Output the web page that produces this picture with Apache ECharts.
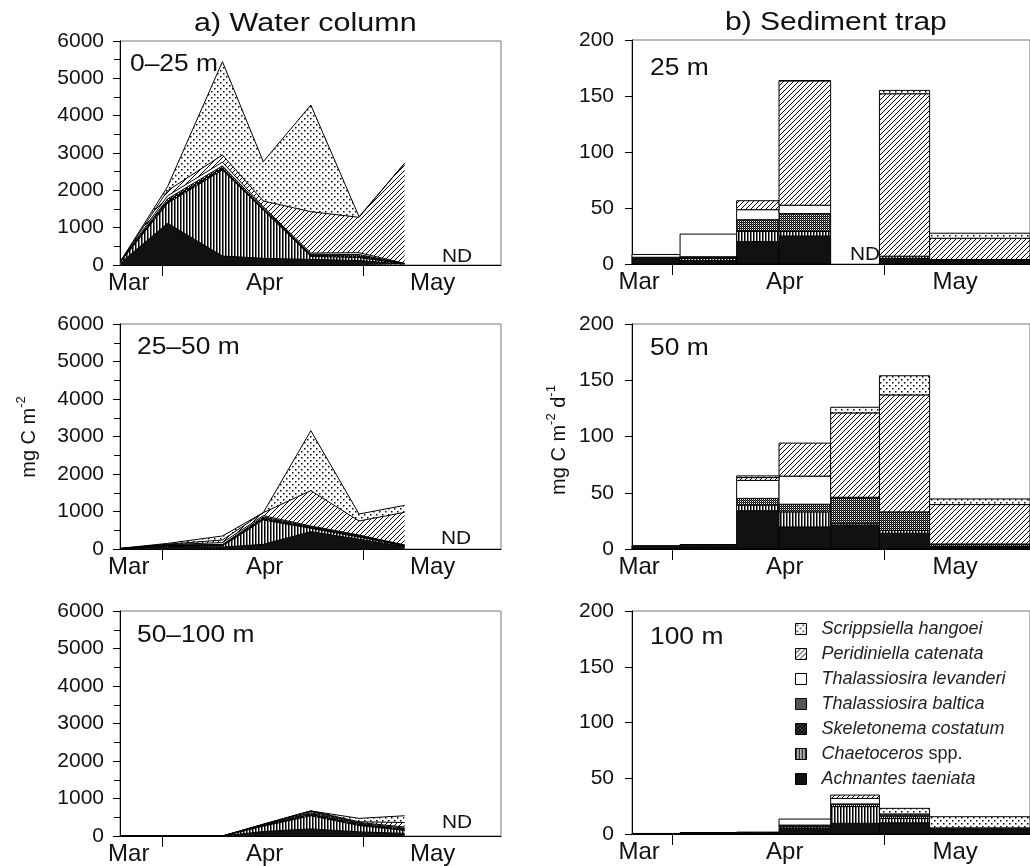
<!DOCTYPE html>
<html><head><meta charset="utf-8">
<script src="https://cdn.jsdelivr.net/npm/echarts@6/dist/echarts.min.js"></script>
<style>html,body{margin:0;padding:0;background:#fff}#c{width:1030px;height:866px}</style>
</head><body><div id="c"></div>
<script>
// ---------------- DATA ----------------
// stack order bottom -> top
const species = ['Achnantes taeniata','Chaetoceros spp.','Skeletonema costatum','Thalassiosira baltica','Thalassiosira levanderi','Peridiniella catenata','Scrippsiella hangoei'];
const legendOrder = ['Scrippsiella hangoei','Peridiniella catenata','Thalassiosira levanderi','Thalassiosira baltica','Skeletonema costatum','Chaetoceros spp.','Achnantes taeniata'];

// sampling dates (day of year)
const sampleDays = [84.8, 91.8, 100.0, 106.1, 113.2, 120.4, 127.2];
// trap deployment interval boundaries (day of year)
const trapBounds = [85.3, 92.1, 100.1, 106.1, 113.4, 120.3, 127.4, 141.6];

// month ticks (Apr 1, May 1) and month label positions
const monthTicks = [91, 121];
const monthNames = ['Mar', 'Apr', 'May'];
const monthLabelDaysWC = [86.0, 106.3, 131.4];
const monthLabelDaysST = [86.3, 106.9, 131.0];

// Water column, mg C m-2 ; rows = species (bottom->top), cols = sampleDays
const wc_0_25 = [
  [60, 1116, 241, 179, 150, 120, 20],
  [30, 536, 2304, 1294, 80, 80, 10],
  [5, 60, 50, 30, 30, 40, 5],
  [5, 60, 60, 30, 30, 40, 5],
  [5, 80, 100, 30, 30, 50, 5],
  [5, 138, 192, 152, 1109, 947, 2679],
  [0, 108, 2500, 1053, 2857, 18, 0]
];
const wc_25_50 = [
  [5, 70, 50, 124, 462, 258, 62],
  [3, 20, 30, 650, 90, 60, 20],
  [2, 10, 20, 40, 20, 20, 10],
  [2, 10, 20, 40, 20, 20, 10],
  [2, 10, 50, 35, 21, 15, 5],
  [2, 10, 70, 80, 943, 374, 871],
  [2, 20, 107, 0, 1600, 186, 186]
];
const wc_50_100 = [
  [0, 0, 0, 120, 190, 110, 70],
  [0, 0, 0, 140, 350, 170, 80],
  [0, 0, 0, 15, 40, 30, 30],
  [0, 0, 0, 15, 40, 30, 30],
  [0, 0, 0, 15, 30, 20, 30],
  [0, 0, 0, 10, 20, 20, 120],
  [0, 0, 0, 0, 0, 90, 180]
];

// Sediment trap, mg C m-2 d-1 ; rows = species, cols = trap intervals (null = ND)
const st_25 = [
  [6, 3, 20, 25, null, 5, 3],
  [0, 2, 9, 4, null, 2, 1],
  [0, 1.5, 0.5, 0, null, 0, 0],
  [0, 0, 10, 16, null, 0, 0],
  [2.5, 20.2, 9, 7.5, null, 0, 0],
  [0, 0, 8, 111, null, 145, 19],
  [0, 0, 0, 0.3, null, 3, 4.5]
];
const st_50 = [
  [3, 2, 34, 19.6, 21, 14, 2],
  [0, 1, 5, 13.4, 1.5, 2.5, 0.5],
  [0, 0, 0, 0, 0, 0, 0],
  [0, 1, 6, 6.8, 23, 16.5, 2],
  [0, 0, 16, 25, 0.5, 0, 0],
  [0, 0, 2.5, 29.3, 75, 104, 35],
  [0, 0, 1.5, 0, 5, 17, 5]
];
const st_100 = [
  [0.5, 1, 1.2, 5, 9.6, 10, 4.5],
  [0, 0.3, 0.5, 1.5, 15, 4, 1],
  [0, 0, 0, 0, 0, 0, 0],
  [0, 0, 0, 1.5, 2.4, 2, 0],
  [0, 0, 0, 5.4, 4.9, 1, 0],
  [0, 0, 0, 0, 3, 1, 0],
  [0, 0, 0, 0, 0, 5, 10]
];

// ---------------- PATTERNS ----------------
function pat(w, h, draw) {
  const c = document.createElement('canvas'); c.width = w; c.height = h;
  const g = c.getContext('2d'); g.fillStyle = '#fff'; g.fillRect(0, 0, w, h); draw(g);
  return { image: c, repeat: 'repeat' };
}
const fills = [
  '#111',
  pat(3, 3, g => { g.fillStyle = '#000'; g.fillRect(0, 0, 1, 3); g.fillStyle = '#777'; g.fillRect(1, 0, 1, 3); }),
  pat(4, 4, g => { g.fillStyle = '#000'; g.fillRect(0, 0, 4, 4); g.fillStyle = '#fff'; g.fillRect(0, 0, 1, 1); g.fillRect(2, 2, 1, 1); }),
  pat(2, 2, g => { g.fillStyle = '#000'; g.fillRect(0, 0, 1, 1); g.fillRect(1, 1, 1, 1); g.fillStyle = '#555'; g.fillRect(1, 0, 1, 1); }),
  '#fff',
  pat(5, 5, g => { g.strokeStyle = '#000'; g.lineWidth = 1; g.beginPath(); g.moveTo(0, 5); g.lineTo(5, 0); g.moveTo(-1, 1); g.lineTo(1, -1); g.moveTo(4, 6); g.lineTo(6, 4); g.stroke(); }),
  pat(6, 6, g => { g.fillStyle = '#000'; g.fillRect(1, 1, 1.5, 1.5); g.fillRect(4, 4, 1.5, 1.5); })
];

// ---------------- OPTION ----------------
const FF = '"Liberation Sans", Arial, Helvetica, sans-serif';
const grids = [
  { left: 120, top: 41, width: 381, height: 224 },
  { left: 120, top: 324, width: 381, height: 225 },
  { left: 120, top: 611, width: 381, height: 225 },
  { left: 632, top: 40, width: 409, height: 224 },
  { left: 632, top: 324, width: 409, height: 225 },
  { left: 632, top: 611, width: 409, height: 223 }
].map(g => Object.assign({ show: true, borderColor: '#777', borderWidth: 1, backgroundColor: 'transparent' }, g));

function xAx(i, isWC) {
  const labDays = isWC ? monthLabelDaysWC : monthLabelDaysST;
  return {
    type: 'value', gridIndex: i,
    min: isWC ? 84.7 : 85.3, max: 141.6,
    axisLine: { show: true, onZero: false, lineStyle: { color: '#000', width: 1 } },
    axisTick: { show: true, customValues: monthTicks, length: 11, lineStyle: { color: '#000' } },
    axisLabel: {
      show: true, customValues: labDays, margin: 6, fontSize: 24, fontFamily: FF, color: '#111',
      formatter: v => { let b = 0, d = 1e9; labDays.forEach((x, k) => { if (Math.abs(x - v) < d) { d = Math.abs(x - v); b = k; } }); return monthNames[b]; }
    },
    splitLine: { show: false }
  };
}
function yAx(i, isWC) {
  return {
    type: 'value', gridIndex: i, min: 0, max: isWC ? 6000 : 200, interval: isWC ? 1000 : 50,
    axisLine: { show: true, lineStyle: { color: '#000', width: 1 } },
    axisTick: { show: true, length: 7, lineStyle: { color: '#000' } },
    minorTick: { show: isWC, splitNumber: 2, length: 6, lineStyle: { color: '#000' } },
    axisLabel: { margin: isWC ? 16 : 18, fontSize: 21, fontFamily: FF, color: '#111', formatter: v => String(v) },
    splitLine: { show: false }
  };
}

const series = [];
// sediment trap (custom step bars) first, so legend picks their style
[st_25, st_50, st_100].forEach((tbl, p) => {
  species.forEach((name, k) => {
    const data = [];
    for (let i = 0; i < trapBounds.length - 1; i++) {
      const v = tbl[k][i];
      if (v === null || !(v > 0)) continue;
      let base = 0; for (let j = 0; j < k; j++) base += (tbl[j][i] || 0);
      data.push([trapBounds[i], trapBounds[i + 1], base, base + v]);
    }
    series.push({
      type: 'custom', name, xAxisIndex: 3 + p, yAxisIndex: 3 + p,
      itemStyle: { color: fills[k], borderColor: '#000', borderWidth: 1 },
      encode: { x: [0, 1], y: [2, 3] },
      data,
      renderItem: (params, api) => {
        const a = api.coord([api.value(0), api.value(3)]);
        const b = api.coord([api.value(1), api.value(2)]);
        return { type: 'rect', shape: { x: a[0], y: a[1], width: b[0] - a[0], height: b[1] - a[1] },
          style: { fill: fills[k], stroke: '#000', lineWidth: 1 } };
      }
    });
  });
});
// water column: cumulative totals, drawn top layer first, each filled down to 0 with opaque pattern
[wc_0_25, wc_25_50, wc_50_100].forEach((tbl, p) => {
  for (let k = species.length - 1; k >= 0; k--) {
    const cum = sampleDays.map((d, i) => { let s = 0; for (let j = 0; j <= k; j++) s += tbl[j][i]; return [d, s]; });
    series.push({
      type: 'line', name: species[k], xAxisIndex: p, yAxisIndex: p,
      symbol: 'none', silent: true,
      lineStyle: { color: '#000', width: 1 },
      areaStyle: { color: fills[k], opacity: 1, origin: 'start' },
      data: cum
    });
  }
});

function txt(text, x, y, size, o) {
  o = o || {};
  return { type: 'text', x, y, scaleX: o.sx || 1, rotation: o.rot || 0, z: 100, silent: true,
    style: { text, x: 0, y: 0, fontSize: size, fontFamily: FF, fill: '#111', align: o.align || 'left', verticalAlign: 'middle', rich: o.rich } };
}
const unitRich = {
  a: { fontSize: 20, fontFamily: FF, fill: '#111', lineHeight: 24, verticalAlign: 'bottom' },
  s: { fontSize: 13, fontFamily: FF, fill: '#111', lineHeight: 14, verticalAlign: 'top' }
};

const option = {
  animation: false,
  backgroundColor: '#fff',
  grid: grids,
  xAxis: [xAx(0, true), xAx(1, true), xAx(2, true), xAx(3, false), xAx(4, false), xAx(5, false)],
  yAxis: [yAx(0, true), yAx(1, true), yAx(2, true), yAx(3, false), yAx(4, false), yAx(5, false)],
  legend: {
    data: legendOrder, orient: 'vertical', left: 790, top: 614, icon: 'rect',
    itemWidth: 11, itemHeight: 11, itemGap: 5, selectedMode: false,
    itemStyle: { borderColor: '#000', borderWidth: 1 },
    textStyle: { fontFamily: FF, fontSize: 18, color: '#222', lineHeight: 20, padding: [0, 0, 0, 10],
      rich: { i: { fontStyle: 'italic', fontSize: 18, fontFamily: FF, color: '#222' }, n: { fontStyle: 'normal', fontSize: 18, fontFamily: FF, color: '#222' } } },
    formatter: n => n === 'Chaetoceros spp.' ? '{i|Chaetoceros} {n|spp.}' : '{i|' + n + '}'
  },
  graphic: [
    txt('a) Water column', 194, 24, 25, { sx: 1.22 }),
    txt('b) Sediment trap', 725, 23, 25, { sx: 1.2 }),
    txt('0\u201325 m', 130, 64, 24, { sx: 1.1 }),
    txt('25\u201350 m', 137, 347, 24, { sx: 1.1 }),
    txt('50\u2013100 m', 137, 635, 24, { sx: 1.1 }),
    txt('25 m', 650, 68, 24, { sx: 1.1 }),
    txt('50 m', 650, 348, 24, { sx: 1.1 }),
    txt('100 m', 650, 637, 24, { sx: 1.1 }),
    txt('ND', 457, 257, 19, { sx: 1.1, align: 'center' }),
    txt('ND', 456, 539, 19, { sx: 1.1, align: 'center' }),
    txt('ND', 457, 823, 19, { sx: 1.1, align: 'center' }),
    txt('ND', 865, 255, 19, { sx: 1.1, align: 'center' }),
    txt('{a|mg C m}{s|-2}', 27, 437, 20, { rot: Math.PI / 2, align: 'center', rich: unitRich }),
    txt('{a|mg C m}{s|-2}{a| d}{s|-1}', 557, 440, 20, { rot: Math.PI / 2, align: 'center', rich: unitRich })
  ],
  series
};
const chart = echarts.init(document.getElementById('c'), null, { renderer: 'canvas' });
chart.setOption(option);
</script></body></html>
